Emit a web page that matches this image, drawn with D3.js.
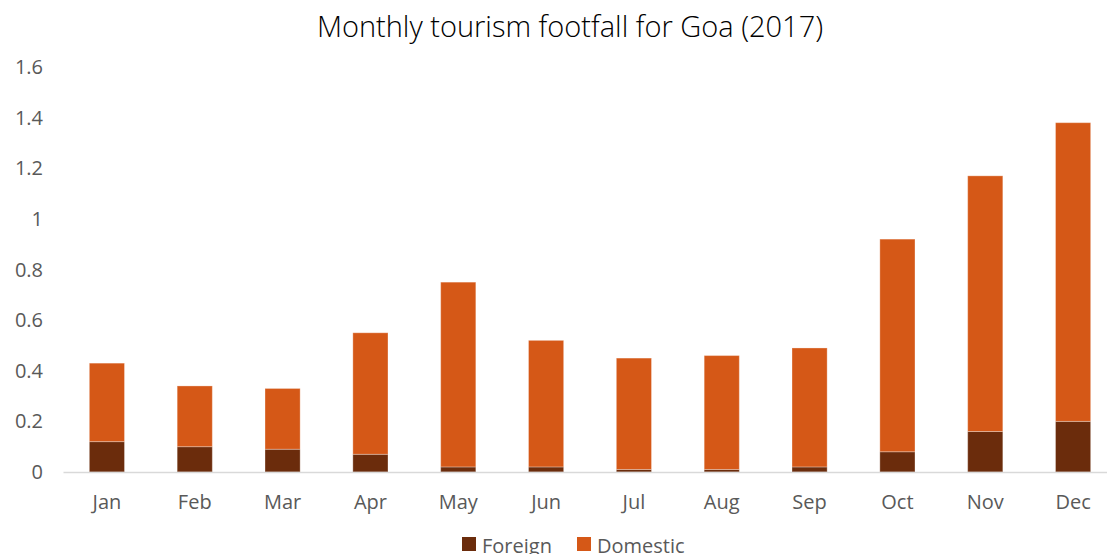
<!DOCTYPE html>
<html>
<head>
<meta charset="utf-8">
<script src="https://cdn.jsdelivr.net/npm/d3@7"></script>
<style>
  body { margin: 0; background: #fff; }
  text { font-family: "Open Sans", "Noto Sans", sans-serif; fill: #595959; }
</style>
</head>
<body>
<script>
// chart data
const months = ["Jan", "Feb", "Mar", "Apr", "May", "Jun", "Jul", "Aug", "Sep", "Oct", "Nov", "Dec"];
const foreign = [0.12, 0.10, 0.09, 0.07, 0.02, 0.02, 0.01, 0.01, 0.02, 0.08, 0.16, 0.20];
const domestic = [0.31, 0.24, 0.24, 0.48, 0.73, 0.50, 0.44, 0.45, 0.47, 0.84, 1.01, 1.18];
const yTicks = [0, 0.2, 0.4, 0.6, 0.8, 1, 1.2, 1.4, 1.6];
const seriesNames = ["Foreign", "Domestic"];
const colors = ["#6b2c0c", "#d55817"];

const W = 1107, H = 554;

let svg = d3.select("body")
  .append("svg")
    .attr("width", W)
    .attr("height", H);

let x = d3.scaleBand()
  .domain(months)
  .range([63, 1117])
  .paddingInner(0.6)
  .paddingOuter(0.3);

let y = d3.scaleLinear()
  .domain([0, 1.6])
  .range([472, 67]);

// stack the two series
let rows = months.map((m, i) => ({ month: m, Foreign: foreign[i], Domestic: domestic[i] }));
let stacked = d3.stack().keys(seriesNames)(rows);

svg.append("text")
  .attr("x", 570)
  .attr("y", 37)
  .attr("text-anchor", "middle")
  .style("font-size", "29px")
  .style("font-weight", 300)
  .style("fill", "#000")
  .text("Monthly tourism footfall for Goa (2017)");

// y axis labels, no line
svg.append("g")
  .selectAll("text")
  .data(yTicks)
  .join("text")
    .attr("x", 43)
    .attr("y", d => y(d))
    .attr("dy", "0.35em")
    .attr("text-anchor", "end")
    .style("font-size", "20px")
    .text(d => d);

// bars
svg.append("g")
  .selectAll("g")
  .data(stacked)
  .join("g")
    .attr("fill", (d, i) => colors[i])
  .selectAll("rect")
  .data(d => d)
  .join("rect")
    .attr("x", d => x(d.data.month))
    .attr("y", d => y(d[1]))
    .attr("width", x.bandwidth())
    .attr("height", d => y(d[0]) - y(d[1]))
    .attr("stroke", "#fff")
    .attr("stroke-opacity", 0.3)
    .attr("stroke-width", 1);

// x axis
let xAxis = svg.append("g")
  .attr("transform", `translate(0,${y(0)})`)
  .call(d3.axisBottom(x).tickSize(0).tickPadding(23));
xAxis.select(".domain").attr("stroke", "#d9d9d9").attr("stroke-width", 1.5);
xAxis.selectAll("text")
  .style("font-size", "20px")
  .style("font-family", "'Open Sans', 'Noto Sans', sans-serif")
  .attr("fill", "#595959");

// legend
let legendX = [462, 577];
let legend = svg.append("g")
  .selectAll("g")
  .data(seriesNames)
  .join("g")
    .attr("transform", (d, i) => `translate(${legendX[i]},537)`);
legend.append("rect")
  .attr("width", 14)
  .attr("height", 14)
  .attr("fill", (d, i) => colors[i]);
legend.append("text")
  .attr("x", 20)
  .attr("y", 8)
  .attr("dy", "0.38em")
  .style("font-size", "20px")
  .text(d => d);
</script>
</body>
</html>
